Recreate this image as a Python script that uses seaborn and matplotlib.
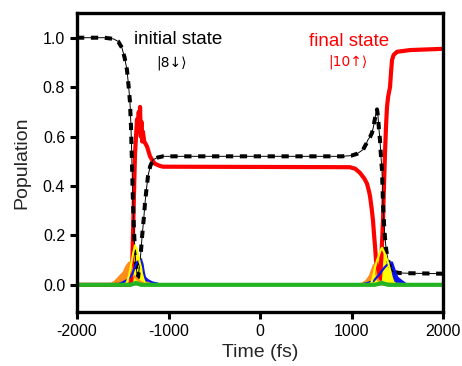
import numpy as np
import pandas as pd
import matplotlib
matplotlib.use("Agg")
import matplotlib.pyplot as plt
import seaborn as sns

# ---- data: populations vs. time (fs) ----
t_init = [-2000, -1700, -1600, -1550, -1510, -1480, -1454, -1435, -1421, -1410,
          -1402, -1395, -1388, -1377, -1366, -1350, -1333, -1315, -1300, -1290,
          -1270, -1257, -1240, -1224, -1200, -1169, -1120, -1060, -900, 0,
          900, 1000, 1060, 1126, 1160, 1180, 1205, 1224, 1240, 1255,
          1270, 1279, 1290, 1300, 1311, 1322, 1333, 1344, 1355, 1366,
          1380, 1399, 1425, 1453, 1520, 1607, 2000]
p_init = [1.0, 1.0, 0.995, 0.985, 0.96, 0.92, 0.87, 0.80, 0.74, 0.64,
          0.53, 0.43, 0.33, 0.22, 0.13, 0.06, 0.03, 0.08, 0.14, 0.19,
          0.27, 0.33, 0.39, 0.44, 0.48, 0.506, 0.515, 0.52, 0.52, 0.52,
          0.52, 0.523, 0.53, 0.547, 0.57, 0.587, 0.60, 0.615, 0.64, 0.67,
          0.70, 0.71, 0.68, 0.63, 0.587, 0.52, 0.466, 0.33, 0.25, 0.19,
          0.14, 0.10, 0.07, 0.053, 0.048, 0.047, 0.045]

t_final = [-2000, -1420, -1405, -1395, -1385, -1375, -1366, -1355, -1344, -1333,
           -1325, -1318, -1311, -1303, -1296, -1288, -1280, -1265, -1250, -1235,
           -1202, -1170, -1148, -1100, -1060, 0, 980, 1040, 1093, 1140,
           1169, 1190, 1202, 1220, 1235, 1245, 1257, 1268, 1279, 1295,
           1310, 1325, 1335, 1344, 1355, 1366, 1377, 1388, 1400, 1410,
           1421, 1432, 1443, 1460, 1497, 1639, 2000]
p_final = [0.0, 0.0, 0.02, 0.10, 0.25, 0.40, 0.53, 0.60, 0.67, 0.64,
           0.70, 0.62, 0.72, 0.60, 0.66, 0.58, 0.62, 0.58, 0.57, 0.56,
           0.52, 0.50, 0.49, 0.482, 0.478, 0.477, 0.476, 0.47, 0.453, 0.43,
           0.41, 0.38, 0.36, 0.31, 0.26, 0.21, 0.155, 0.10, 0.07, 0.03,
           0.02, 0.10, 0.18, 0.26, 0.40, 0.53, 0.64, 0.72, 0.76, 0.78,
           0.80, 0.86, 0.91, 0.93, 0.943, 0.95, 0.955]

t_orange = [-2000, -1650, -1617, -1580, -1530, -1490, -1460, -1430, -1410, -1390,
            -1300, -1250, -1200, -1160, -1120, 0,
            1080, 1120, 1160, 1200, 1225, 1245, 1265, 1290, 1330, 2000]
p_orange = [0.0, 0.0, 0.005, 0.015, 0.035, 0.05, 0.075, 0.09, 0.08, 0.04,
            0.01, 0.008, 0.01, 0.006, 0.0, 0.0,
            0.0, 0.005, 0.015, 0.035, 0.06, 0.08, 0.05, 0.02, 0.005, 0.0]

t_blue = [-2000, -1560, -1500, -1450, -1400, -1360, -1320, -1300, -1285, -1270,
          -1257, -1230, -1180, -1120, -1090, 0,
          1100, 1180, 1240, 1300, 1360, 1400, 1420, 1443, 1470, 1500,
          1550, 1607, 2000]
p_blue = [0.0, 0.0, 0.01, 0.02, 0.04, 0.08, 0.10, 0.10, 0.085, 0.05,
          0.03, 0.02, 0.01, 0.005, 0.0, 0.0,
          0.0, 0.008, 0.015, 0.04, 0.07, 0.085, 0.09, 0.09, 0.06, 0.03,
          0.015, 0.0, 0.0]

t_yellow = [-2000, -1480, -1455, -1430, -1415, -1400, -1385, -1366, -1355, -1345,
            -1335, -1320, -1300, -1290, -1275, -1260, -1230, 0,
            1190, 1220, 1240, 1257, 1280, 1300, 1318, 1333, 1345, 1360, 1380,
            1400, 1421, 1440, 1460, 1500, 2000]
p_yellow = [0.0, 0.0, 0.01, 0.04, 0.07, 0.10, 0.13, 0.16, 0.15, 0.14,
            0.12, 0.10, 0.07, 0.045, 0.025, 0.01, 0.0, 0.0,
            0.0, 0.01, 0.04, 0.07, 0.10, 0.12, 0.14, 0.15, 0.14, 0.13, 0.11,
            0.09, 0.06, 0.03, 0.01, 0.0, 0.0]

t_green = [-2000, -1420, -1380, -1355, -1330, -1300, 0, 1250, 1300, 1333, 1360, 1400, 2000]
p_green = [0.0, 0.0, 0.004, 0.008, 0.004, 0.0, 0.0, 0.0, 0.004, 0.008, 0.004, 0.0, 0.0]

x_ticks = [-2000, -1000, 0, 1000, 2000]
y_ticks = [0.0, 0.2, 0.4, 0.6, 0.8, 1.0]

# ---- style ----
sns.set_style("ticks")
plt.rcParams["font.family"] = ["Liberation Sans", "DejaVu Sans"]
plt.rcParams["axes.unicode_minus"] = False

fig = plt.figure(figsize=(4.62, 3.66), dpi=100)
ax = fig.add_axes([77 / 462, 1 - 312 / 366, 366 / 462, 299 / 366])

# final state
sns.lineplot(x=t_final, y=p_final, color="#ff0000", lw=3.0, ax=ax, sort=False)
# initial state: thin guide line under thick dashes
sns.lineplot(x=t_init, y=p_init, color="black", lw=0.7, ax=ax, sort=False)
sns.lineplot(x=t_init, y=p_init, color="black", lw=2.9, ax=ax, sort=False,
             linestyle=(0, (1.8, 1.65)))

# minor contributions, drawn on top
ax.fill_between(t_orange, p_orange, color="#ff8c1a", lw=0)
ax.fill_between(t_blue, p_blue, color="#0a14f0", lw=0)
sns.lineplot(x=t_orange, y=p_orange, color="#ff8c1a", lw=1.6, ax=ax, sort=False)
sns.lineplot(x=t_blue, y=p_blue, color="#0a14f0", lw=1.6, ax=ax, sort=False)
ax.fill_between(t_yellow, p_yellow, color="#ffff00", lw=0)
sns.lineplot(x=t_yellow, y=p_yellow, color="#ffff00", lw=1.5, ax=ax, sort=False)
sns.lineplot(x=t_green, y=p_green, color="#22b422", lw=3.0, ax=ax, sort=False)

ax.set_xlim(-2000, 2000)
ax.set_ylim(-0.11, 1.10)
ax.set_xticks(x_ticks)
ax.set_xticklabels([str(v) for v in x_ticks])
ax.set_yticks(y_ticks)
ax.set_yticklabels([f"{v:.1f}" for v in y_ticks])

for side in ["left", "right", "top", "bottom"]:
    ax.spines[side].set_visible(True)
    ax.spines[side].set_linewidth(2.4)
    ax.spines[side].set_color("black")
ax.tick_params(axis="both", direction="out", length=5, width=2.2,
               labelsize=11.5, colors="black", top=False, right=False)

ax.set_xlabel("Time (fs)", fontsize=14, labelpad=4)
ax.set_ylabel("Population", fontsize=14, labelpad=9)

ax.text(-896, 0.992, "initial state", fontsize=13.5, ha="center", va="center", color="black")
ax.text(-962, 0.899, "|8\u2193\u27e9", fontsize=10, ha="center", va="center",
        color="black", family="DejaVu Sans")
ax.text(973, 0.984, "final state", fontsize=13.5, ha="center", va="center", color="#ff0000")
ax.text(962, 0.903, "|10\u2191\u27e9", fontsize=10, ha="center", va="center",
        color="#ff0000", family="DejaVu Sans")

fig.savefig("out.png", dpi=100)
